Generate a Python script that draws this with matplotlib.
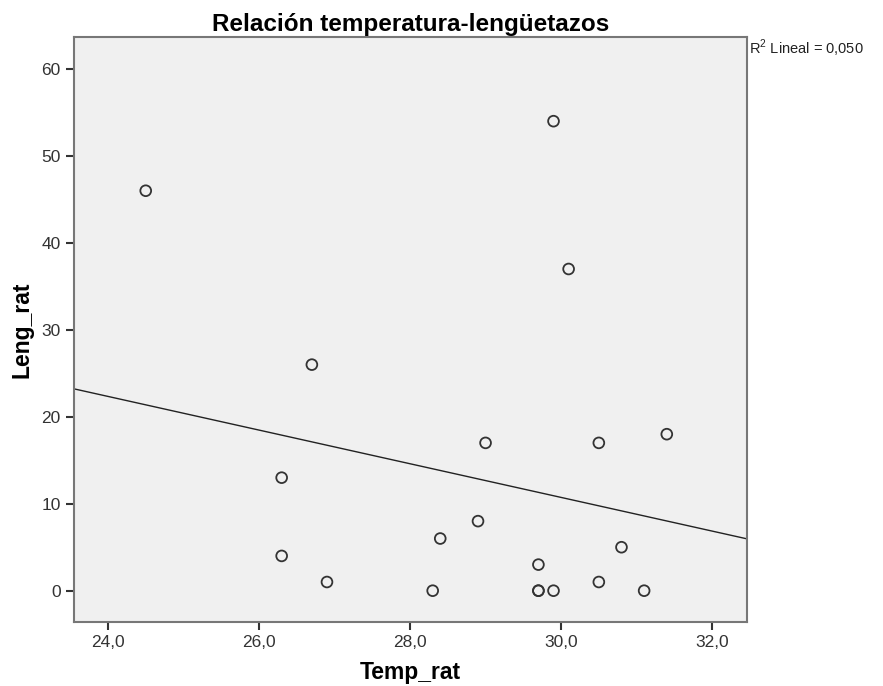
import numpy as np
from matplotlib import pyplot as plt

# data
temp_rat = [24.5, 26.7, 26.3, 26.3, 26.9, 28.3, 28.4, 28.9, 29.0, 29.7,
            29.7, 29.7, 29.9, 29.9, 30.1, 30.5, 30.5, 30.8, 31.1, 31.4]
leng_rat = [46, 26, 13, 4, 1, 0, 6, 8, 17, 3,
            0, 0, 0, 54, 37, 17, 1, 5, 0, 18]
x_ticks = [24, 26, 28, 30, 32]
y_ticks = [0, 10, 20, 30, 40, 50, 60]
r2_text = 'R$^2$ Lineal = 0,050'

plt.rcParams['font.family'] = ['Liberation Sans', 'DejaVu Sans']
plt.rcParams['mathtext.fontset'] = 'custom'
plt.rcParams['mathtext.rm'] = 'Liberation Sans'

fig = plt.figure(figsize=(8.83, 6.86), dpi=100)
ax = fig.add_axes([0.0838, 0.0933, 0.762, 0.853])
ax.set_facecolor('#f0f0f0')

ax.scatter(temp_rat, leng_rat, s=60, facecolors='none', edgecolors='#333333', linewidths=1.3, zorder=3)

# linear fit line
xlim = (23.55, 32.46)
slope, inter = np.polyfit(temp_rat, leng_rat, 1)
xl = np.array(xlim)
ax.plot(xl, inter + slope * xl, color='#222222', lw=1.0, zorder=2)

ax.set_xlim(xlim)
ax.set_ylim(-3.6, 63.7)
ax.set_xticks(x_ticks)
ax.set_xticklabels([f'{t:.1f}'.replace('.', ',') for t in x_ticks])
ax.set_yticks(y_ticks)
ax.tick_params(direction='out', length=6, width=1.5, color='#333333', labelsize=12.5, labelcolor='#333333')
for s in ax.spines.values():
    s.set_color('#777777')
    s.set_linewidth(1.5)

ax.set_xlabel('Temp_rat', fontsize=16.5, fontweight='bold', labelpad=8)
ax.set_ylabel('Leng_rat', fontsize=16.5, fontweight='bold', labelpad=6)
ax.set_title('Relación temperatura-lengüetazos', fontsize=17.5, fontweight='bold', pad=4)

fig.text(0.848, 0.93, r2_text, fontsize=10.5, ha='left', va='center', color='#222222')

fig.savefig('out.png', dpi=100)
